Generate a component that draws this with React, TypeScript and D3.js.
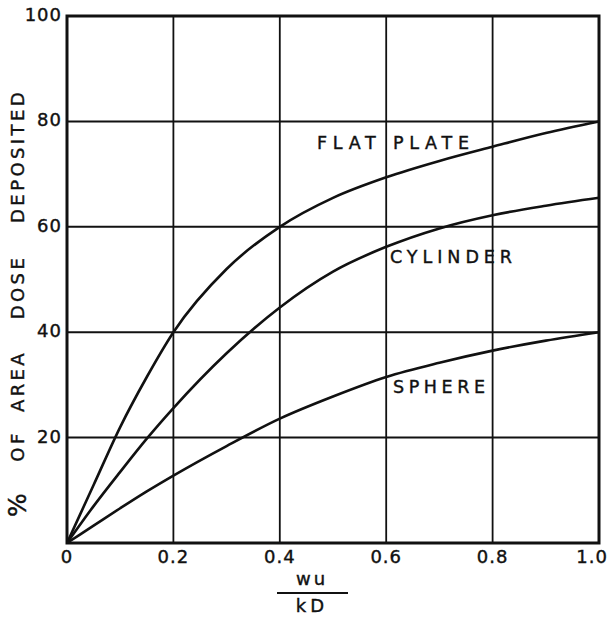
import React, { useEffect, useRef } from "react";
import * as d3 from "d3";

const xValues = [0, 0.05, 0.1, 0.15, 0.2, 0.3, 0.4, 0.5, 0.6, 0.7, 0.8, 0.9, 1.0];
const flatPlate = [0, 11, 22, 31.5, 40, 52, 60, 65.5, 69.4, 72.5, 75.2, 77.8, 80];
const cylinder = [0, 7, 13.5, 19.8, 25.6, 36, 44.7, 51.5, 56.2, 59.7, 62.2, 64, 65.5];
const sphere = [0, 3.3, 6.6, 9.8, 12.8, 18.4, 23.6, 27.8, 31.5, 34.2, 36.5, 38.4, 40];
const seriesNames = ["FLAT PLATE", "CYLINDER", "SPHERE"];
const xTicks = [0, 0.2, 0.4, 0.6, 0.8, 1.0];
const xTickLabels = ["0", "0.2", "0.4", "0.6", "0.8", "1.0"];
const yTicks = [20, 40, 60, 80, 100];
const yTickLabels = ["20", "40", "60", "80", "100"];
const yTitleWords = ["%", "OF", "AREA", "DOSE", "DEPOSITED"];
const xTitleTop = "wu";
const xTitleBottom = "kD";

export default function App() {
  const ref = useRef<SVGSVGElement | null>(null);

  useEffect(() => {
    const svg = d3.select(ref.current);
    svg.selectAll("*").remove();
    const W = 610, H = 620;
    const left = 67, right = 599, top = 16, bottom = 543;
    const x = d3.scaleLinear().domain([0, 1]).range([left, right]);
    const y = d3.scaleLinear().domain([0, 100]).range([bottom, top]);
    const font = "'DejaVu Sans', 'Liberation Sans', sans-serif";
    const ink = "#111";

    svg.append("rect").attr("width", W).attr("height", H).attr("fill", "#fff");

    // grid
    const g = svg.append("g");
    g.selectAll("line.vx")
      .data(xTicks.slice(1, -1))
      .join("line")
      .attr("x1", (d) => x(d)).attr("x2", (d) => x(d))
      .attr("y1", top).attr("y2", bottom)
      .attr("stroke", ink).attr("stroke-width", 1.8);
    g.selectAll("line.hy")
      .data(yTicks.slice(0, -1))
      .join("line")
      .attr("x1", left).attr("x2", right)
      .attr("y1", (d) => y(d)).attr("y2", (d) => y(d))
      .attr("stroke", ink).attr("stroke-width", 2);

    // frame
    svg.append("rect")
      .attr("x", left).attr("y", top)
      .attr("width", right - left).attr("height", bottom - top)
      .attr("fill", "none").attr("stroke", ink).attr("stroke-width", 3);

    // curves
    const line = d3.line<number>()
      .x((_, i) => x(xValues[i]))
      .y((d) => y(d))
      .curve(d3.curveMonotoneX);
    [flatPlate, cylinder, sphere].forEach((s) => {
      svg.append("path").attr("d", line(s) as string)
        .attr("fill", "none").attr("stroke", ink).attr("stroke-width", 2.6);
    });

    const styleText = (sel: any, size: number, sw = 0.4) =>
      sel.attr("font-family", font).attr("font-size", size)
        .attr("fill", ink).attr("stroke", ink).attr("stroke-width", sw)
        .attr("dominant-baseline", "middle");

    // series labels
    const labelPos = [
      { x0: 317, y0: 144, len: 152 },
      { x0: 390, y0: 258, len: 122 },
      { x0: 393, y0: 388, len: 92 },
    ];
    seriesNames.forEach((n, i) => {
      styleText(svg.append("text"), 17.5)
        .attr("x", labelPos[i].x0)
        .attr("y", labelPos[i].y0)
        .attr("textLength", labelPos[i].len)
        .attr("lengthAdjust", "spacing")
        .text(n);
    });

    // x tick labels
    styleText(svg.selectAll("text.xt").data(xTicks).join("text"), 18)
      .attr("x", (d: number, i: number) => (i === xTicks.length - 1 ? 608 : x(d)))
      .attr("y", 558)
      .attr("text-anchor", (_: number, i: number) => (i === xTicks.length - 1 ? "end" : "middle"))
      .attr("letter-spacing", 1)
      .text((_: number, i: number) => xTickLabels[i]);

    // y tick labels
    styleText(svg.selectAll("text.yt").data(yTicks).join("text"), 18)
      .attr("x", 62)
      .attr("y", (d: number) => y(d))
      .attr("text-anchor", "end")
      .attr("letter-spacing", 1)
      .text((_: number, i: number) => yTickLabels[i]);

    // y title, word by word
    const wordCenters = [505, 446, 381, 287, 156];
    yTitleWords.forEach((w, i) => {
      styleText(svg.append("text"), 18)
        .attr("transform", `translate(19, ${wordCenters[i]}) rotate(-90)`)
        .attr("text-anchor", "middle")
        .attr("letter-spacing", w === "%" ? 0 : 3.4)
        .attr("font-size", w === "%" ? 25 : 18)
        .text(w);
    });

    // x title (fraction)
    const cx = 312;
    styleText(svg.append("text"), 18)
      .attr("x", cx).attr("y", 580)
      .attr("text-anchor", "middle")
      .attr("letter-spacing", 3)
      .text(xTitleTop);
    svg.append("line")
      .attr("x1", 277).attr("x2", 348).attr("y1", 593).attr("y2", 593)
      .attr("stroke", ink).attr("stroke-width", 2);
    styleText(svg.append("text"), 18)
      .attr("x", cx).attr("y", 607)
      .attr("text-anchor", "middle")
      .attr("letter-spacing", 4)
      .text(xTitleBottom);
  }, []);

  return (
    <svg
      ref={ref}
      width={610}
      height={620}
      style={{ position: "absolute", left: 0, top: 0 }}
    />
  );
}
